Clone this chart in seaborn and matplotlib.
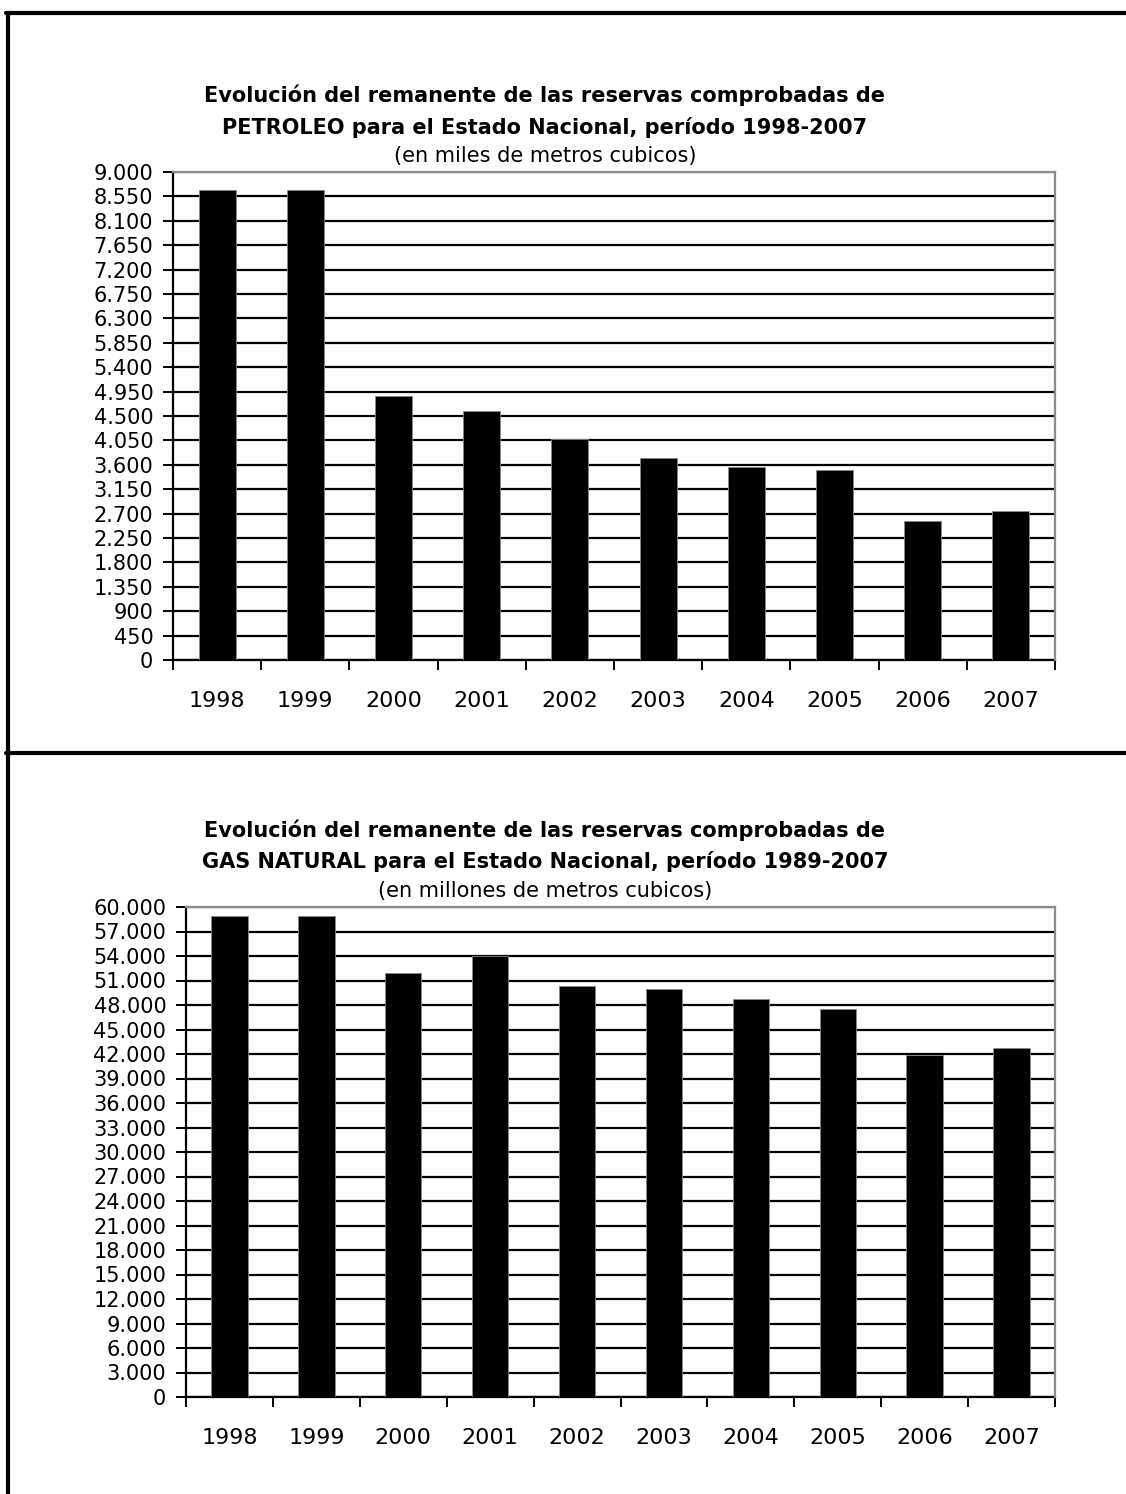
import matplotlib
matplotlib.use("Agg")
import matplotlib.pyplot as plt
import seaborn as sns
import pandas as pd
from matplotlib.ticker import FuncFormatter, FixedLocator
from matplotlib.lines import Line2D

sns.set_theme(style="white")
plt.rcParams['font.family'] = ['DejaVu Sans']

years = ["1998", "1999", "2000", "2001", "2002", "2003", "2004", "2005", "2006", "2007"]
petroleo = [8670, 8670, 4870, 4600, 4080, 3730, 3560, 3510, 2560, 2740]
gas = [58900, 58900, 51900, 54000, 50350, 49980, 48710, 47480, 41900, 42730]

titles_top = ["Evolución del remanente de las reservas comprobadas de",
              "PETROLEO para el Estado Nacional, período 1998-2007",
              "(en miles de metros cubicos)"]
titles_bot = ["Evolución del remanente de las reservas comprobadas de",
              "GAS NATURAL para el Estado Nacional, período 1989-2007",
              "(en millones de metros cubicos)"]

W, H = 1126, 1494
fig = plt.figure(figsize=(W / 100, H / 100), dpi=100)


def ax_rect(l, r, t, b):
    return [l / W, 1 - b / H, (r - l) / W, (b - t) / H]


def fmt(v, pos):
    return f"{int(round(v)):,}".replace(",", ".")


def draw(rect, values, ymax, step):
    ax = fig.add_axes(rect)
    df = pd.DataFrame({"year": years, "value": values})
    sns.barplot(data=df, x="year", y="value", color="black", width=0.42,
                edgecolor="#888888", linewidth=0.6, ax=ax, saturation=1, zorder=3)
    ax.set_xlim(-0.5, len(years) - 0.5)
    ax.set_ylim(0, ymax)
    ax.yaxis.set_major_locator(FixedLocator(list(range(0, ymax + 1, step))))
    ax.yaxis.set_major_formatter(FuncFormatter(fmt))
    ax.grid(axis="y", color="black", linewidth=1.6, zorder=0)
    ax.grid(axis="x", visible=False)
    ax.set_axisbelow(True)
    ax.set_xlabel("")
    ax.set_ylabel("")
    for s in ["left", "bottom"]:
        ax.spines[s].set_color("black")
        ax.spines[s].set_linewidth(1.6)
    for s in ["top", "right"]:
        ax.spines[s].set_color("#8c8c8c")
        ax.spines[s].set_linewidth(1.6)
        ax.spines[s].set_zorder(5)
    ax.tick_params(axis="y", which="major", direction="out", length=7.2, width=1.4,
                   color="black", labelsize=15, pad=7, left=True)
    ax.set_xticks(range(len(years)))
    ax.set_xticklabels(years)
    ax.xaxis.set_minor_locator(FixedLocator([i - 0.5 for i in range(len(years) + 1)]))
    ax.tick_params(axis="x", which="major", length=0, labelsize=16, pad=22)
    ax.tick_params(axis="x", which="minor", direction="out", length=7, width=1.4,
                   color="black", bottom=True)
    for lab in ax.get_yticklabels() + ax.get_xticklabels():
        lab.set_color("black")
    return ax


draw(ax_rect(173, 1055, 172, 660), petroleo, 9000, 450)
draw(ax_rect(186, 1055, 907, 1397), gas, 60000, 3000)

cx = 545
for (y1, y2, y3), tt in [((95, 127, 156), titles_top), ((830, 862, 891), titles_bot)]:
    fig.text(cx / W, 1 - y1 / H, tt[0], ha="center", va="center", fontsize=15, fontweight="bold", color="black")
    fig.text(cx / W, 1 - y2 / H, tt[1], ha="center", va="center", fontsize=15, fontweight="bold", color="black")
    fig.text(cx / W, 1 - y3 / H, tt[2], ha="center", va="center", fontsize=15, color="black")

lw = 3.0
fig.add_artist(Line2D([8 / W, 8 / W], [0, 1 - 13 / H], color="black", linewidth=lw, transform=fig.transFigure))
fig.add_artist(Line2D([6 / W, 1], [1 - 13 / H, 1 - 13 / H], color="black", linewidth=lw, transform=fig.transFigure))
fig.add_artist(Line2D([6 / W, 1], [1 - 753 / H, 1 - 753 / H], color="black", linewidth=lw, transform=fig.transFigure))

fig.savefig("out.png", dpi=100, facecolor="white")
